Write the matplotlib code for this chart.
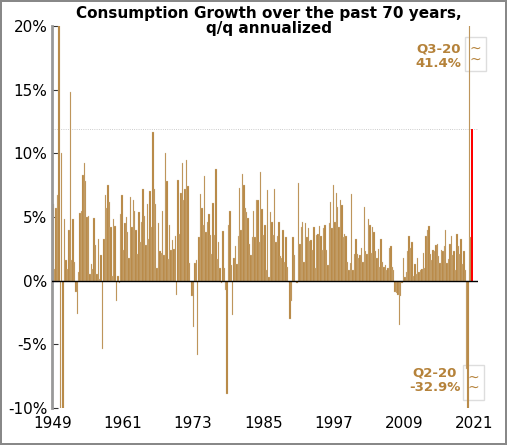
import matplotlib
matplotlib.use("Agg")
import matplotlib.pyplot as plt
import numpy as np
from matplotlib.ticker import FuncFormatter

growth = [6.0,0.9,5.7,6.7,20.5,-10.5,10.0,-10.5,4.8,1.6,0.9,4.0,14.8,1.6,4.8,1.5,-0.9,-2.6,0.7,5.3,
          5.5,8.3,9.2,7.8,5.0,5.1,0.5,1.3,0.9,4.9,2.8,0.5,3.3,0.1,2.0,-5.4,3.3,6.7,5.7,7.5,
          6.2,4.2,0.4,4.8,4.3,-1.6,0.4,-0.2,5.2,6.7,2.4,4.5,5.0,3.8,1.8,6.6,4.2,6.3,5.5,4.0,
          2.1,5.4,3.0,4.6,7.2,5.1,2.8,6.0,3.3,7.0,4.2,11.7,7.2,6.0,1.0,4.5,2.3,2.2,5.5,2.0,
          10.0,7.8,1.7,4.4,2.4,3.2,2.5,3.5,-1.1,7.9,3.7,6.9,9.2,6.3,7.2,9.5,7.4,1.4,-0.1,-1.2,
          -3.6,1.4,1.6,-5.8,3.4,6.8,5.7,4.4,8.2,3.8,4.6,5.2,3.6,2.1,6.1,3.6,8.8,1.7,3.0,1.0,
          -0.2,3.9,1.0,-0.7,-8.9,4.4,5.5,1.2,-2.7,1.8,2.7,1.3,3.5,7.3,4.0,8.4,7.5,5.7,5.4,4.9,
          2.9,2.0,3.4,5.5,3.4,6.3,6.3,3.0,8.5,5.6,3.6,4.4,0.8,7.1,0.3,5.4,4.6,3.6,7.2,3.0,
          3.5,4.6,1.9,1.8,4.0,1.5,3.4,1.1,-0.1,-3.0,-1.6,3.4,2.0,0.0,-0.2,7.7,2.9,4.2,4.6,1.5,
          4.5,3.4,4.1,3.1,3.2,2.4,4.2,1.0,3.6,3.7,4.3,3.5,2.4,4.1,4.4,2.4,1.2,4.5,6.2,4.1,
          7.5,4.6,6.9,5.8,4.2,6.3,5.9,3.4,3.7,3.5,1.5,0.8,1.4,6.8,0.8,2.1,3.3,2.1,1.8,2.0,
          2.6,1.5,5.8,2.3,2.1,4.8,4.4,2.2,4.2,3.8,2.3,1.8,2.5,1.1,3.3,1.5,1.1,1.2,0.8,1.0,
          2.6,2.7,1.1,0.8,-0.9,-1.0,-1.1,-3.5,-1.2,-0.2,1.8,0.3,0.7,2.3,3.5,2.6,3.0,0.4,1.3,0.5,
          1.8,0.7,0.8,0.9,2.2,1.0,3.5,4.0,4.3,2.1,1.6,2.4,2.3,2.8,2.9,1.9,1.4,2.4,2.3,2.7,
          4.0,1.4,1.7,2.9,3.5,2.0,2.3,0.8,3.7,2.7,2.1,3.3,1.3,2.3,0.8,-6.9,-32.9,41.4,3.4,11.9]
xticks = [1949, 1961, 1973, 1985, 1997, 2009, 2021]

gold = "#B5823A"
n = len(growth)
x = np.linspace(1949.2, 2020.6, n)
w = (x[1] - x[0])

fig = plt.figure(figsize=(5.07, 4.45), dpi=100)
fig.patch.set_edgecolor("#888888"); fig.patch.set_linewidth(1.5)
ax = fig.add_axes([0.103, 0.083, 0.84, 0.859])
ax.bar(x[:-1], growth[:-1], width=w, color=gold, edgecolor="#D8C8B0", linewidth=0.2, zorder=2)
ax.bar(x[-1], growth[-1], width=w * 1.2, color="#FF0000", zorder=3)
ax.axhline(0, color="black", lw=1, zorder=4)
ax.axhline(growth[-1], color="#BBBBBB", lw=0.6, ls=":", zorder=1)
ax.set_ylim(-10, 20)
ax.set_xlim(1949, 2021.6)
ax.set_yticks(range(-10, 21, 5))
ax.yaxis.set_major_formatter(FuncFormatter(lambda v, p: f"{int(v)}%"))
ax.set_xticks(xticks)
ax.tick_params(axis="x", length=0, labelsize=11, pad=6)
ax.tick_params(axis="y", labelsize=11, length=4, direction="in", color="#333333")
for s in ["top", "right", "bottom"]:
    ax.spines[s].set_visible(False)
ax.spines["left"].set_color("#999999"); ax.spines["left"].set_linewidth(2)
fig.text(0.53, 0.952, "Consumption Growth over the past 70 years,\nq/q annualized", fontsize=11,
         fontweight="bold", ha="center", va="center", linespacing=1.0)
ax.text(2014.8, 17.6, "Q3-20\n41.4%", color=gold, fontsize=9.5, fontweight="bold",
        ha="center", va="center", linespacing=1.1)
ax.text(2014.2, -7.8, "Q2-20\n-32.9%", color=gold, fontsize=9.5, fontweight="bold",
        ha="center", va="center", linespacing=1.1)
for xx, yy in ((2021.2, 17.8), (2020.8, -8.0)):
    ax.text(xx, yy, "~\n~", color=gold, fontsize=10, ha="center", va="center", zorder=1,
            linespacing=0.7, bbox=dict(boxstyle="square,pad=0.35", fc="white", ec="#DDDDDD"),
            clip_on=False)
fig.savefig("out.png", dpi=100)
